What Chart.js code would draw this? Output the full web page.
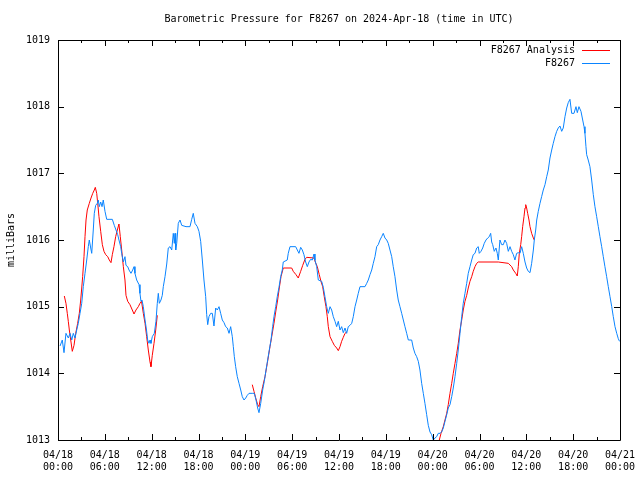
<!DOCTYPE html>
<html>
<head>
<meta charset="utf-8">
<script src="https://cdn.jsdelivr.net/npm/chart.js@4/dist/chart.umd.min.js"></script>
<style>
  body { margin: 0; background: #fff; }
  canvas { display: block; }
</style>
</head>
<body>
<canvas id="pressureChart" width="640" height="480"></canvas>
<script>
// hours since 04/18 00:00 UTC
const blueHours = [0.26,0.55,0.77,1.02,1.32,1.54,1.76,1.96,2.18,2.40,2.60,2.82,3.04,3.24,3.46,3.68,3.88,4.01,4.19,4.32,4.52,4.65,4.83,5.03,5.16,5.29,5.47,5.64,5.80,6.02,6.24,6.66,6.96,7.21,7.43,7.65,7.81,8.03,8.16,8.37,8.58,8.71,8.93,9.10,9.35,9.57,9.74,9.86,10.08,10.38,10.50,10.63,10.76,10.93,11.15,11.34,11.49,11.66,11.79,11.91,12.08,12.34,12.55,12.72,12.85,12.98,13.19,13.36,13.49,13.71,13.93,14.13,14.35,14.57,14.77,14.90,14.99,15.08,15.21,15.41,15.63,15.85,16.40,16.91,17.13,17.33,17.55,17.85,18.06,18.28,18.49,18.70,18.92,19.05,19.18,19.34,19.56,19.77,19.98,20.20,20.41,20.63,20.84,21.05,21.27,21.48,21.69,21.91,22.12,22.33,22.46,22.59,22.76,22.97,23.19,23.41,23.61,23.83,24.05,24.25,24.47,24.89,25.15,25.37,25.58,25.75,25.97,26.22,26.43,26.65,26.86,27.07,27.29,27.50,27.67,27.89,28.09,28.31,28.53,28.73,28.86,29.37,29.50,29.72,30.45,30.66,30.87,31.09,31.30,31.51,31.73,31.94,32.15,32.37,32.58,32.80,32.92,33.14,33.35,33.56,33.78,33.99,34.20,34.42,34.63,34.85,35.06,35.27,35.49,35.70,35.91,36.13,36.34,36.55,36.77,36.98,37.19,37.41,37.63,37.83,38.05,38.27,38.47,38.69,39.33,39.55,39.75,39.97,40.19,40.39,40.61,40.83,41.03,41.25,41.47,41.67,41.89,42.11,42.31,42.53,42.75,42.95,43.17,43.39,43.59,43.81,44.03,44.24,44.45,44.67,44.88,45.31,45.52,45.73,45.95,46.16,46.37,46.59,46.80,47.01,47.23,47.44,47.66,47.87,48.08,48.30,48.51,48.72,48.94,49.15,49.36,49.58,49.80,50.00,50.22,50.44,50.64,50.86,51.08,51.28,51.50,51.72,51.92,52.14,52.36,52.56,52.78,53.00,53.20,53.42,53.64,53.84,53.97,54.19,54.41,54.61,54.83,55.05,55.25,55.43,55.56,55.69,55.89,56.11,56.28,56.41,56.62,56.84,57.05,57.26,57.48,57.69,57.91,58.12,58.33,58.54,58.76,58.97,59.19,59.40,59.61,59.83,60.04,60.25,60.47,60.68,60.90,61.02,61.20,61.33,61.53,61.75,61.96,62.17,62.39,62.61,62.81,63.03,63.25,63.45,63.67,63.89,64.09,64.31,64.53,64.73,64.95,65.17,65.37,65.59,65.81,66.11,66.36,66.53,66.74,67.00,67.22,67.39,67.51,67.64,67.73,67.93,68.15,68.37,68.58,68.79,69.01,69.22,69.43,69.65,69.86,70.07,70.29,70.50,70.72,70.94,71.14,71.36,71.58,71.78,71.94];
const bluePressure = [1014.41,1014.5,1014.31,1014.6,1014.53,1014.6,1014.5,1014.6,1014.53,1014.65,1014.75,1014.9,1015.05,1015.3,1015.5,1015.7,1015.9,1016.0,1015.88,1015.8,1016.15,1016.4,1016.52,1016.55,1016.6,1016.5,1016.57,1016.5,1016.6,1016.43,1016.31,1016.31,1016.31,1016.22,1016.15,1016.08,1016.0,1015.9,1015.8,1015.67,1015.75,1015.62,1015.6,1015.55,1015.5,1015.55,1015.6,1015.5,1015.4,1015.33,1015.2,1015.08,1015.1,1015.0,1014.8,1014.65,1014.5,1014.45,1014.5,1014.45,1014.55,1014.6,1014.78,1015.05,1015.2,1015.05,1015.1,1015.17,1015.3,1015.45,1015.64,1015.88,1015.9,1015.85,1016.1,1015.95,1016.1,1015.85,1015.95,1016.25,1016.3,1016.22,1016.2,1016.2,1016.31,1016.4,1016.25,1016.2,1016.13,1015.98,1015.7,1015.4,1015.15,1014.88,1014.73,1014.85,1014.9,1014.9,1014.71,1014.98,1014.95,1015.0,1014.9,1014.8,1014.76,1014.7,1014.68,1014.6,1014.7,1014.55,1014.4,1014.25,1014.1,1013.95,1013.85,1013.75,1013.65,1013.6,1013.63,1013.67,1013.7,1013.7,1013.7,1013.6,1013.48,1013.41,1013.55,1013.75,1013.88,1014.05,1014.2,1014.35,1014.5,1014.7,1014.85,1015.0,1015.15,1015.29,1015.45,1015.55,1015.67,1015.7,1015.8,1015.9,1015.9,1015.85,1015.8,1015.89,1015.85,1015.78,1015.67,1015.6,1015.67,1015.71,1015.7,1015.79,1015.7,1015.6,1015.4,1015.39,1015.38,1015.29,1015.15,1015.0,1014.9,1015.0,1014.95,1014.85,1014.78,1014.7,1014.78,1014.65,1014.7,1014.61,1014.68,1014.6,1014.7,1014.72,1014.75,1014.85,1015.0,1015.1,1015.2,1015.3,1015.3,1015.35,1015.4,1015.48,1015.55,1015.65,1015.75,1015.9,1015.93,1016.0,1016.05,1016.1,1016.03,1016.0,1015.95,1015.85,1015.75,1015.6,1015.45,1015.25,1015.1,1015.0,1014.9,1014.8,1014.7,1014.6,1014.5,1014.5,1014.38,1014.3,1014.25,1014.18,1014.05,1013.85,1013.7,1013.55,1013.38,1013.22,1013.12,1013.08,1013.0,1013.03,1013.05,1013.1,1013.1,1013.12,1013.18,1013.28,1013.38,1013.48,1013.53,1013.65,1013.78,1013.95,1014.15,1014.35,1014.6,1014.85,1015.05,1015.2,1015.35,1015.5,1015.6,1015.7,1015.78,1015.8,1015.88,1015.9,1015.8,1015.83,1015.88,1015.95,1016.0,1016.03,1016.05,1016.1,1015.97,1015.93,1015.83,1015.88,1015.8,1015.7,1016.0,1015.93,1015.93,1016.0,1015.95,1015.83,1015.9,1015.83,1015.78,1015.7,1015.8,1015.81,1015.8,1015.9,1015.8,1015.67,1015.58,1015.53,1015.51,1015.65,1015.85,1016.0,1016.15,1016.3,1016.43,1016.55,1016.65,1016.75,1016.83,1016.95,1017.05,1017.23,1017.35,1017.45,1017.55,1017.63,1017.68,1017.71,1017.63,1017.68,1017.85,1017.98,1018.06,1018.11,1017.9,1017.9,1018.0,1017.91,1018.0,1017.93,1017.8,1017.7,1017.6,1017.4,1017.28,1017.2,1017.1,1016.9,1016.68,1016.5,1016.35,1016.2,1016.05,1015.9,1015.75,1015.6,1015.45,1015.3,1015.15,1015.0,1014.85,1014.7,1014.6,1014.52,1014.48];

// analysis series, null = gap
const redHours = [0.81,1.02,1.19,1.32,1.45,1.63,1.83,2.05,2.27,2.52,2.73,2.91,3.04,3.16,3.33,3.46,3.59,3.75,4.01,4.23,4.45,4.65,4.78,4.96,5.09,5.25,5.47,5.68,5.89,6.11,6.37,6.57,6.79,6.96,7.17,7.39,7.60,7.81,7.98,8.16,8.37,8.58,8.71,8.93,9.22,9.52,9.74,9.99,10.29,10.50,10.70,10.93,11.15,11.36,11.57,11.79,11.91,12.08,12.30,12.52,12.72,
  18.0,
  24.89,25.11,25.33,25.58,25.75,25.97,26.22,26.52,26.81,27.16,27.38,27.67,27.93,28.14,28.35,28.57,28.86,29.94,30.14,30.49,30.78,31.09,31.35,31.64,31.86,32.80,32.96,33.22,33.47,33.69,33.91,34.11,34.33,34.50,34.63,34.85,35.14,35.40,35.70,35.91,36.13,36.34,36.55,36.77,36.96,
  42.0,
  48.85,49.07,49.36,49.58,49.80,50.00,50.22,50.44,50.64,50.86,51.08,51.28,51.50,51.72,51.92,52.14,52.36,52.56,52.78,53.00,53.20,53.42,53.64,53.84,56.41,57.69,58.12,58.33,58.64,58.84,58.97,59.10,59.28,59.40,59.53,59.70,59.83,59.92,60.04,60.17,60.34,60.47,60.68,60.90,61.02];
const redPressure = [1015.16,1015.05,1014.9,1014.78,1014.65,1014.5,1014.33,1014.42,1014.6,1014.75,1014.9,1015.1,1015.28,1015.45,1015.75,1016.05,1016.3,1016.45,1016.55,1016.63,1016.7,1016.75,1016.79,1016.7,1016.55,1016.35,1016.13,1015.93,1015.83,1015.78,1015.75,1015.7,1015.66,1015.78,1015.9,1016.05,1016.15,1016.24,1016.05,1015.85,1015.6,1015.4,1015.17,1015.08,1015.03,1014.95,1014.89,1014.95,1015.0,1015.05,1015.08,1014.9,1014.75,1014.55,1014.35,1014.17,1014.1,1014.27,1014.45,1014.65,1014.87,
  null,
  1013.83,1013.73,1013.63,1013.53,1013.5,1013.65,1013.8,1013.95,1014.15,1014.4,1014.55,1014.75,1014.95,1015.1,1015.28,1015.45,1015.58,1015.58,1015.53,1015.48,1015.43,1015.53,1015.62,1015.71,1015.74,1015.73,1015.67,1015.6,1015.48,1015.38,1015.3,1015.15,1015.0,1014.85,1014.7,1014.55,1014.48,1014.42,1014.38,1014.34,1014.4,1014.48,1014.54,1014.6,1014.62,
  null,
  1013.0,1013.1,1013.2,1013.3,1013.4,1013.53,1013.7,1013.85,1014.0,1014.15,1014.3,1014.45,1014.65,1014.8,1014.95,1015.08,1015.17,1015.28,1015.38,1015.45,1015.53,1015.6,1015.65,1015.67,1015.67,1015.65,1015.6,1015.55,1015.5,1015.46,1015.6,1015.8,1015.93,1016.05,1016.2,1016.35,1016.48,1016.53,1016.48,1016.4,1016.3,1016.2,1016.1,1016.03,1016.0];

const yTicks = [1013, 1014, 1015, 1016, 1017, 1018, 1019];
const xTickHours = [0, 6, 12, 18, 24, 30, 36, 42, 48, 54, 60, 66, 72];

const FONT = '"DejaVu Sans Mono", monospace';
const RED = '#ff0000';
const BLUE = '#0a84ff';

function toPoints(xs, ys) {
    return xs.map((x, i) => ({ x: x, y: ys[i] }));
}

function hourLabel(h) {
    const day = 18 + Math.floor(h / 24);
    const hh = h % 24;
    return ['04/' + day, (hh < 10 ? '0' : '') + hh + ':00'];
}

// border, inward ticks, title, axis label, legend
const gnuplotFrame = {
    id: 'gnuplotFrame',
    afterDraw(chart) {
        const ctx = chart.ctx;
        const a = chart.chartArea;
        const xs = chart.scales.x;
        const ys = chart.scales.y;
        ctx.save();
        ctx.strokeStyle = '#000';
        ctx.lineWidth = 1;
        ctx.beginPath();
        ctx.rect(Math.round(a.left) + 0.5, Math.round(a.top) + 0.5, Math.round(a.right - a.left), Math.round(a.bottom - a.top));
        // x ticks every 3h, long on 6h
        for (let h = 0; h <= 72; h += 3) {
            const px = Math.round(xs.getPixelForValue(h)) + 0.5;
            const len = h % 6 === 0 ? 6 : 3;
            ctx.moveTo(px, a.bottom); ctx.lineTo(px, a.bottom - len);
            ctx.moveTo(px, a.top); ctx.lineTo(px, a.top + len);
        }
        yTicks.forEach(v => {
            const py = Math.round(ys.getPixelForValue(v)) + 0.5;
            ctx.moveTo(a.left, py); ctx.lineTo(a.left + 6, py);
            ctx.moveTo(a.right, py); ctx.lineTo(a.right - 6, py);
        });
        ctx.stroke();

        ctx.fillStyle = '#000';
        ctx.font = '10px ' + FONT;
        ctx.textBaseline = 'middle';
        ctx.textAlign = 'center';
        ctx.fillText('Barometric Pressure for F8267 on 2024-Apr-18 (time in UTC)', (a.left + a.right) / 2, 19);

        ctx.save();
        ctx.translate(11, (a.top + a.bottom) / 2);
        ctx.rotate(-Math.PI / 2);
        ctx.fillText('milliBars', 0, 0);
        ctx.restore();

        // legend
        const rows = [['F8267 Analysis', RED, 50], ['F8267', BLUE, 63]];
        ctx.textAlign = 'right';
        rows.forEach(r => {
            ctx.fillStyle = '#000';
            ctx.fillText(r[0], 575, r[2]);
            ctx.strokeStyle = r[1];
            ctx.beginPath();
            ctx.moveTo(582, r[2] + 0.5);
            ctx.lineTo(610, r[2] + 0.5);
            ctx.stroke();
        });
        ctx.restore();
    }
};

const chartData = {
    datasets: [
        {
            label: 'F8267',
            data: toPoints(blueHours, bluePressure),
            borderColor: BLUE,
            borderWidth: 1,
            pointRadius: 0,
            tension: 0
        },
        {
            label: 'F8267 Analysis',
            data: toPoints(redHours, redPressure),
            borderColor: RED,
            borderWidth: 1,
            pointRadius: 0,
            tension: 0,
            spanGaps: false
        }
    ]
};

const chartOptions = {
    responsive: false,
    animation: false,
    layout: { padding: { top: 40, right: 20, left: 0, bottom: 0 } },
    plugins: {
        legend: { display: false },
        title: { display: false },
        tooltip: { enabled: false }
    },
    scales: {
        x: {
            type: 'linear',
            min: 0,
            max: 72,
            afterFit: scale => {
                scale.height = 40;
                scale.paddingLeft = 0;
                scale.paddingRight = 0;
            },
            afterBuildTicks: scale => { scale.ticks = xTickHours.map(v => ({ value: v })); },
            grid: { display: false, drawTicks: false },
            border: { display: false },
            ticks: {
                autoSkip: false,
                maxRotation: 0,
                padding: 9,
                color: '#000',
                font: { family: FONT, size: 10 },
                callback: v => hourLabel(v)
            }
        },
        y: {
            min: 1013,
            max: 1019,
            afterFit: scale => {
                scale.width = 58;
                scale.paddingTop = 0;
                scale.paddingBottom = 0;
            },
            afterBuildTicks: scale => { scale.ticks = yTicks.map(v => ({ value: v })); },
            grid: { display: false, drawTicks: false },
            border: { display: false },
            ticks: {
                padding: 8,
                color: '#000',
                font: { family: FONT, size: 10 },
                callback: v => String(v)
            }
        }
    }
};

new Chart(document.getElementById('pressureChart').getContext('2d'), {
    type: 'line',
    data: chartData,
    options: chartOptions,
    plugins: [gnuplotFrame]
});
</script>
</body>
</html>
